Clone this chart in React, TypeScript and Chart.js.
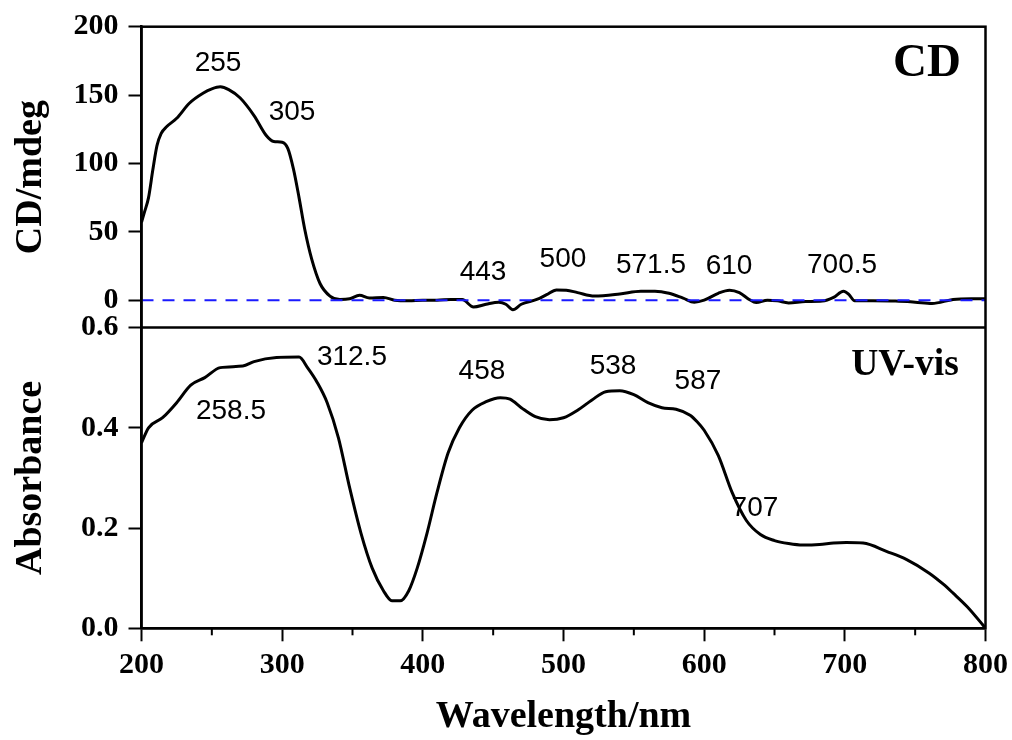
import React, { useEffect, useRef } from 'react';
import { Chart, registerables } from 'chart.js';

Chart.register(...registerables);

// ---- Data ----
const cdWavelengths = [200, 202, 205, 208, 211, 214, 218, 225, 234, 244, 250, 256, 262, 270, 280, 289, 294, 300, 304, 308, 312, 316, 321, 327, 334, 341, 348, 355, 362, 372, 380, 390, 400, 410, 420, 428, 436, 445, 454, 459, 464, 470, 481, 488, 495, 502, 510, 522, 540, 555, 565, 575, 585, 593, 600, 610, 618, 625, 632, 637, 645, 652, 660, 672, 684, 692, 699, 703, 707, 720, 736, 750, 762, 777, 790, 800];
const cdValues = [57, 64, 75, 95, 113, 122, 127, 133, 144, 151.5, 154.5, 156, 154, 148, 135, 120, 116, 115.5, 111, 96, 75, 52, 30, 12, 3, 0.5, 1, 3.5, 1.5, 2, 0, -0.5, 0, 0, 0.5, 0.5, -5, -3, -1.5, -3, -7, -3, 0.5, 4, 7.5, 7.3, 5.5, 3, 4.5, 6.5, 6.5, 5, 1.5, -1.5, 0, 5, 7.3, 5.5, 0.5, -1.8, 0, -0.5, -2, -1, -0.7, 2, 6.6, 4, -0.5, -0.5, -0.7, -1.5, -2.4, 0.5, 1, 1];

const uvWavelengths = [200, 205, 215, 225, 235, 245, 256, 272, 280, 296, 312, 318, 325, 332, 340, 348, 356, 364, 372, 378, 384, 390, 396, 403, 410, 418, 426, 435, 445, 455, 462, 470, 480, 490, 500, 510, 520, 530, 540, 550, 560, 570, 580, 590, 595, 600, 610, 620, 630, 640, 650, 660, 670, 682, 692, 701, 713, 730, 744, 760, 770, 777, 787, 798, 800];
const uvValues = [0.37, 0.40, 0.42, 0.45, 0.485, 0.50, 0.52, 0.523, 0.532, 0.54, 0.541, 0.52, 0.49, 0.45, 0.38, 0.28, 0.19, 0.12, 0.075, 0.055, 0.055, 0.075, 0.12, 0.19, 0.27, 0.35, 0.40, 0.435, 0.452, 0.46, 0.457, 0.44, 0.422, 0.416, 0.42, 0.435, 0.455, 0.472, 0.474, 0.466, 0.45, 0.44, 0.437, 0.425, 0.412, 0.395, 0.345, 0.27, 0.215, 0.187, 0.175, 0.169, 0.166, 0.167, 0.170, 0.171, 0.170, 0.153, 0.137, 0.11, 0.088, 0.07, 0.043, 0.007, 0.0];

const zeroLineX = [200, 800];
const zeroLineY = [0, 0];

const xTickValues = [200, 300, 400, 500, 600, 700, 800];
const xMinorTickValues = [250, 350, 450, 550, 650, 750];
const cdTickValues = [0, 50, 100, 150, 200];
const uvTickValues = [0, 0.2, 0.4, 0.6];

const cdPeakTexts = ['255', '305', '443', '500', '571.5', '610', '700.5'];
const cdPeakAtX = [254.4, 307, 442.8, 499.6, 562.2, 617.7, 698];
const cdPeakAtY = [173.5, 137.7, 20.2, 29.7, 25.3, 24.6, 25.3];

const uvPeakTexts = ['312.5', '258.5', '458', '538', '587', '707'];
const uvPeakAtX = [349.6, 263.6, 442, 535.2, 595.6, 636.1];
const uvPeakAtY = [0.5406, 0.4326, 0.5126, 0.5226, 0.4926, 0.2386];

const panelTitles = ['CD', 'UV-vis'];

const toPoints = (xs: number[], ys: number[]) => xs.map((x, i) => ({ x, y: ys[i] }));

const SERIF = '"Liberation Serif", "Times New Roman", serif';
const SANS = '"Liberation Sans", Arial, sans-serif';

const decorPlugin = {
  id: 'decor',
  afterDraw(chart: any) {
    const { ctx, chartArea, scales } = chart;
    const { left, right, top, bottom } = chartArea;
    const x = scales.x;
    const yCD = scales.yCD;
    const yUV = scales.yUV;
    ctx.save();
    ctx.strokeStyle = '#000';
    ctx.lineWidth = 2.5;
    ctx.strokeRect(left, top, right - left, bottom - top);
    ctx.beginPath();
    ctx.moveTo(left, yCD.bottom);
    ctx.lineTo(right, yCD.bottom);
    ctx.stroke();
    ctx.lineWidth = 2;
    xMinorTickValues.forEach((v) => {
      const px = x.getPixelForValue(v);
      ctx.beginPath();
      ctx.moveTo(px, bottom);
      ctx.lineTo(px, bottom + 7);
      ctx.stroke();
    });
    ctx.fillStyle = '#000';
    ctx.font = `28px ${SANS}`;
    ctx.textAlign = 'center';
    ctx.textBaseline = 'middle';
    cdPeakTexts.forEach((t, i) => {
      ctx.fillText(t, x.getPixelForValue(cdPeakAtX[i]), yCD.getPixelForValue(cdPeakAtY[i]));
    });
    uvPeakTexts.forEach((t, i) => {
      ctx.fillText(t, x.getPixelForValue(uvPeakAtX[i]), yUV.getPixelForValue(uvPeakAtY[i]));
    });
    ctx.textAlign = 'right';
    ctx.font = `bold 47px ${SERIF}`;
    ctx.fillText(panelTitles[0], x.getPixelForValue(782.5), yCD.getPixelForValue(172.8));
    ctx.font = `bold 37.5px ${SERIF}`;
    ctx.fillText(panelTitles[1], x.getPixelForValue(781), yUV.getPixelForValue(0.5246));
    ctx.restore();
  },
};

export default function App() {
  const canvasRef = useRef<HTMLCanvasElement | null>(null);

  useEffect(() => {
    if (!canvasRef.current) return;
    const yTickFont = { family: SERIF, weight: 'bold' as const, size: 30 };
    const xTickFont = { family: SERIF, weight: 'bold' as const, size: 30 };
    const titleFont = { family: SERIF, weight: 'bold' as const, size: 38 };
    const fitY = (s: any) => {
      s.width = 141.5;
      s.paddingTop = 0;
      s.paddingBottom = 0;
    };
    const chart = new Chart(canvasRef.current, {
      type: 'line',
      data: {
        datasets: [
          {
            label: 'zero',
            data: toPoints(zeroLineX, zeroLineY),
            yAxisID: 'yCD',
            borderColor: '#1a1aff',
            borderWidth: 2,
            borderDash: [12, 9],
            pointRadius: 0,
            fill: false,
          },
          {
            label: 'CD',
            data: toPoints(cdWavelengths, cdValues),
            yAxisID: 'yCD',
            borderColor: '#000',
            borderWidth: 3,
            pointRadius: 0,
            cubicInterpolationMode: 'monotone',
            fill: false,
          },
          {
            label: 'UV-vis',
            data: toPoints(uvWavelengths, uvValues),
            yAxisID: 'yUV',
            borderColor: '#000',
            borderWidth: 3,
            pointRadius: 0,
            cubicInterpolationMode: 'monotone',
            fill: false,
          },
        ],
      },
      options: {
        responsive: false,
        animation: false,
        devicePixelRatio: 1,
        layout: { padding: { left: 0, right: 26.5, top: 26.7, bottom: 0 } },
        plugins: { legend: { display: false }, tooltip: { enabled: false } },
        scales: {
          x: {
            type: 'linear',
            position: 'bottom',
            min: 200,
            max: 800,
            afterBuildTicks: (s: any) => {
              s.ticks = xTickValues.map((v) => ({ value: v }));
            },
            afterFit: (s: any) => {
              s.height = 111.7;
              s.paddingLeft = 0;
              s.paddingRight = 0;
            },
            grid: { display: true, drawOnChartArea: false, drawTicks: true, tickLength: 13, tickWidth: 2, tickColor: '#000' },
            border: { display: true, color: '#000', width: 2.5 },
            ticks: { color: '#000', font: xTickFont, padding: 6, maxRotation: 0, autoSkip: false },
            title: { display: true, text: 'Wavelength/nm', color: '#000', font: titleFont, padding: { top: 0, bottom: 0 } },
          },
          yUV: {
            type: 'linear',
            position: 'left',
            stack: 'panels',
            stackWeight: 1,
            min: 0,
            max: 0.6,
            afterBuildTicks: (s: any) => {
              s.ticks = uvTickValues.map((v) => ({ value: v }));
            },
            afterFit: fitY,
            grid: { drawOnChartArea: false, drawTicks: true, tickLength: 13, tickWidth: 2, tickColor: '#000' },
            border: { display: true, color: '#000', width: 2.5 },
            ticks: { color: '#000', font: yTickFont, padding: 10, callback: (v: any) => Number(v).toFixed(1) },
            title: { display: true, text: 'Absorbance', color: '#000', font: titleFont, padding: { top: 8, bottom: 0 } },
          },
          yCD: {
            type: 'linear',
            position: 'left',
            stack: 'panels',
            stackWeight: 1,
            min: -20,
            max: 200,
            afterBuildTicks: (s: any) => {
              s.ticks = cdTickValues.map((v) => ({ value: v }));
            },
            afterFit: fitY,
            grid: { drawOnChartArea: false, drawTicks: true, tickLength: 13, tickWidth: 2, tickColor: '#000' },
            border: { display: true, color: '#000', width: 2.5 },
            ticks: { color: '#000', font: yTickFont, padding: 10, callback: (v: any) => String(v) },
            title: { display: true, text: 'CD/mdeg', color: '#000', font: titleFont, padding: { top: 8, bottom: 0 } },
          },
        },
      },
      plugins: [decorPlugin],
    } as any);
    return () => chart.destroy();
  }, []);

  return (
    <div style={{ position: 'absolute', left: 0, top: 0, width: 1012, height: 740, background: '#fff' }}>
      <canvas ref={canvasRef} width={1012} height={740} style={{ display: 'block' }} />
    </div>
  );
}
